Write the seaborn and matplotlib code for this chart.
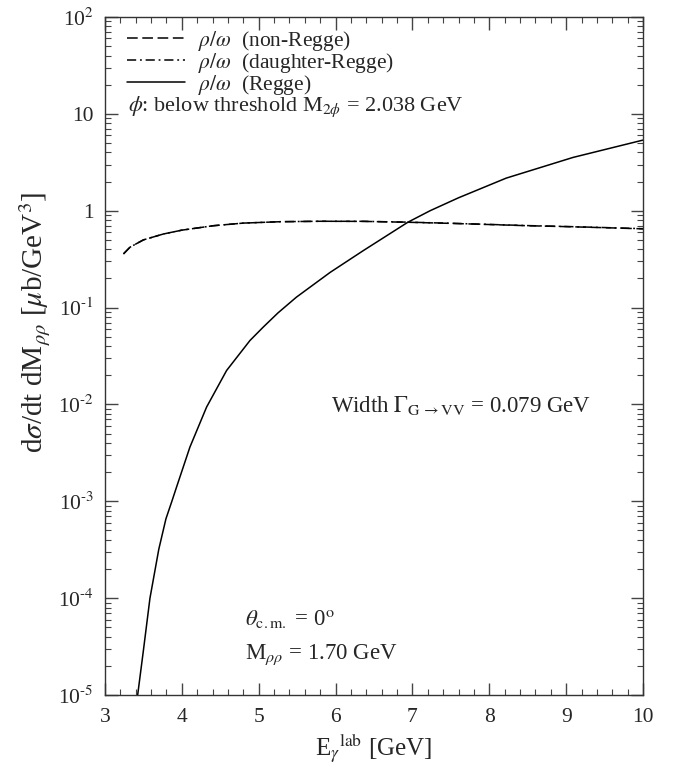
import numpy as np
import pandas as pd
import matplotlib
matplotlib.use("Agg")
import matplotlib.pyplot as plt
import seaborn as sns
from matplotlib.ticker import FixedLocator, FuncFormatter, LogLocator, MultipleLocator

# ---- data ----
E_nonregge = [3.24, 3.325, 3.5, 3.76, 4.0, 4.41, 4.8, 5.28, 5.8, 6.36, 6.94, 7.5, 8.0, 8.5, 9.0, 9.5, 10.0]
s_nonregge = [0.358, 0.42, 0.50, 0.575, 0.63, 0.70, 0.745, 0.77, 0.778, 0.776, 0.76, 0.74, 0.72, 0.70, 0.685, 0.668, 0.65]

E_daughter = [3.24, 3.325, 3.5, 3.76, 4.0, 4.41, 4.8, 5.28, 5.8, 6.36, 6.94, 7.5, 8.0, 8.5, 9.0, 9.5, 10.0]
s_daughter = [0.358, 0.42, 0.50, 0.575, 0.63, 0.70, 0.745, 0.77, 0.778, 0.777, 0.762, 0.742, 0.722, 0.702, 0.687, 0.67, 0.652]

E_regge = [3.425, 3.50, 3.585, 3.70, 3.793, 3.87, 3.932, 4.105, 4.322, 4.582, 4.886, 5.06, 5.25,
           5.49, 5.93, 6.36, 6.94, 7.23, 7.6, 8.22, 9.09, 10.0]
s_regge = [1.0e-5, 2.9e-5, 1.0e-4, 3.2e-4, 6.6e-4, 1.0e-3, 1.41e-3, 3.63e-3, 9.4e-3, 0.0224, 0.0457, 0.063, 0.088,
           0.128, 0.231, 0.387, 0.76, 1.0, 1.36, 2.17, 3.55, 5.36]

series_labels = [r"$\rho/\omega$  (non-Regge)", r"$\rho/\omega$  (daughter-Regge)", r"$\rho/\omega$  (Regge)"]
x_ticks = [3, 4, 5, 6, 7, 8, 9, 10]
y_ticks = [1e-5, 1e-4, 1e-3, 1e-2, 1e-1, 1, 10, 100]

sns.set_style("ticks")
plt.rcParams["font.family"] = ["Liberation Serif", "DejaVu Serif"]
plt.rcParams["mathtext.fontset"] = "stix"
plt.rcParams["axes.unicode_minus"] = False

fig = plt.figure(figsize=(6.81, 7.72), dpi=100)
ax = fig.add_axes([105/681, 77/772, 538/681, 678/772])

df1 = pd.DataFrame({"E": E_nonregge, "s": s_nonregge})
df2 = pd.DataFrame({"E": E_daughter, "s": s_daughter})
df3 = pd.DataFrame({"E": E_regge, "s": s_regge})

sns.lineplot(data=df1, x="E", y="s", ax=ax, color="black", lw=1.1, label=series_labels[0])
ax.lines[-1].set_dashes([7, 3])
sns.lineplot(data=df2, x="E", y="s", ax=ax, color="black", lw=1.1, label=series_labels[1])
ax.lines[-1].set_dashes([6, 2.5, 1.2, 2.5])
sns.lineplot(data=df3, x="E", y="s", ax=ax, color="black", lw=1.1, label=series_labels[2])

ax.set_yscale("log")
ax.set_xlim(3, 10)
ax.set_ylim(1e-5, 1e2)

ax.xaxis.set_major_locator(FixedLocator(x_ticks))
ax.xaxis.set_minor_locator(MultipleLocator(0.2))
ax.yaxis.set_major_locator(FixedLocator(y_ticks))
ax.yaxis.set_minor_locator(LogLocator(base=10, subs=np.arange(2, 10), numticks=20))

def yfmt(v, pos):
    e = int(round(np.log10(v)))
    if e == 0:
        return "1"
    if e == 1:
        return "10"
    if e < 0:
        return r"10$^{\text{-}%d}$" % (-e)
    return r"10$^{%d}$" % e

ax.yaxis.set_major_formatter(FuncFormatter(yfmt))
ax.yaxis.set_minor_formatter(FuncFormatter(lambda v, p: ""))

ax.tick_params(which="both", direction="in", top=True, right=True, color="#444444")
ax.tick_params(which="major", length=9, width=1.0, labelsize=15.5)
ax.tick_params(axis="x", which="major", pad=9)
ax.tick_params(axis="y", which="major", pad=8)
ax.tick_params(which="minor", length=4.5, width=0.8)
for sp in ax.spines.values():
    sp.set_linewidth(1.0)
    sp.set_color("#333333")

ax.set_xlabel(r"E$_{\gamma}$$^{\mathrm{lab}}$ [GeV]", fontsize=18, labelpad=3)
ax.set_ylabel(r"d$\sigma$/dt dM$_{\rho\rho}$ [$\mu$b/GeV$^{3}$]", fontsize=21, labelpad=4)
ax.yaxis.set_label_coords(-0.097, 0.55)

leg = ax.legend(loc="upper left", frameon=False, fontsize=15.5, handlelength=2.7,
                handletextpad=0.6, labelspacing=-0.1, borderaxespad=0.0,
                bbox_to_anchor=(0.025, 0.995))
ax.text(0.043, 0.867, r"$\phi$: below threshold M$_{2\phi}$ = 2.038 GeV", transform=ax.transAxes,
        fontsize=16, va="center", ha="left")

ax.text(0.42, 0.427, r"Width $\Gamma_{\mathrm{G\,\rightarrow VV}}$ = 0.079 GeV", transform=ax.transAxes,
        fontsize=16.5, va="center", ha="left")
ax.text(0.261, 0.111, r"$\theta_{\mathrm{c.m.}}$ = 0$^{\mathrm{o}}$", transform=ax.transAxes,
        fontsize=16.5, va="center", ha="left")
ax.text(0.261, 0.059, r"M$_{\rho\rho}$ = 1.70 GeV", transform=ax.transAxes,
        fontsize=16.5, va="center", ha="left")

fig.savefig("out.png", dpi=100)
